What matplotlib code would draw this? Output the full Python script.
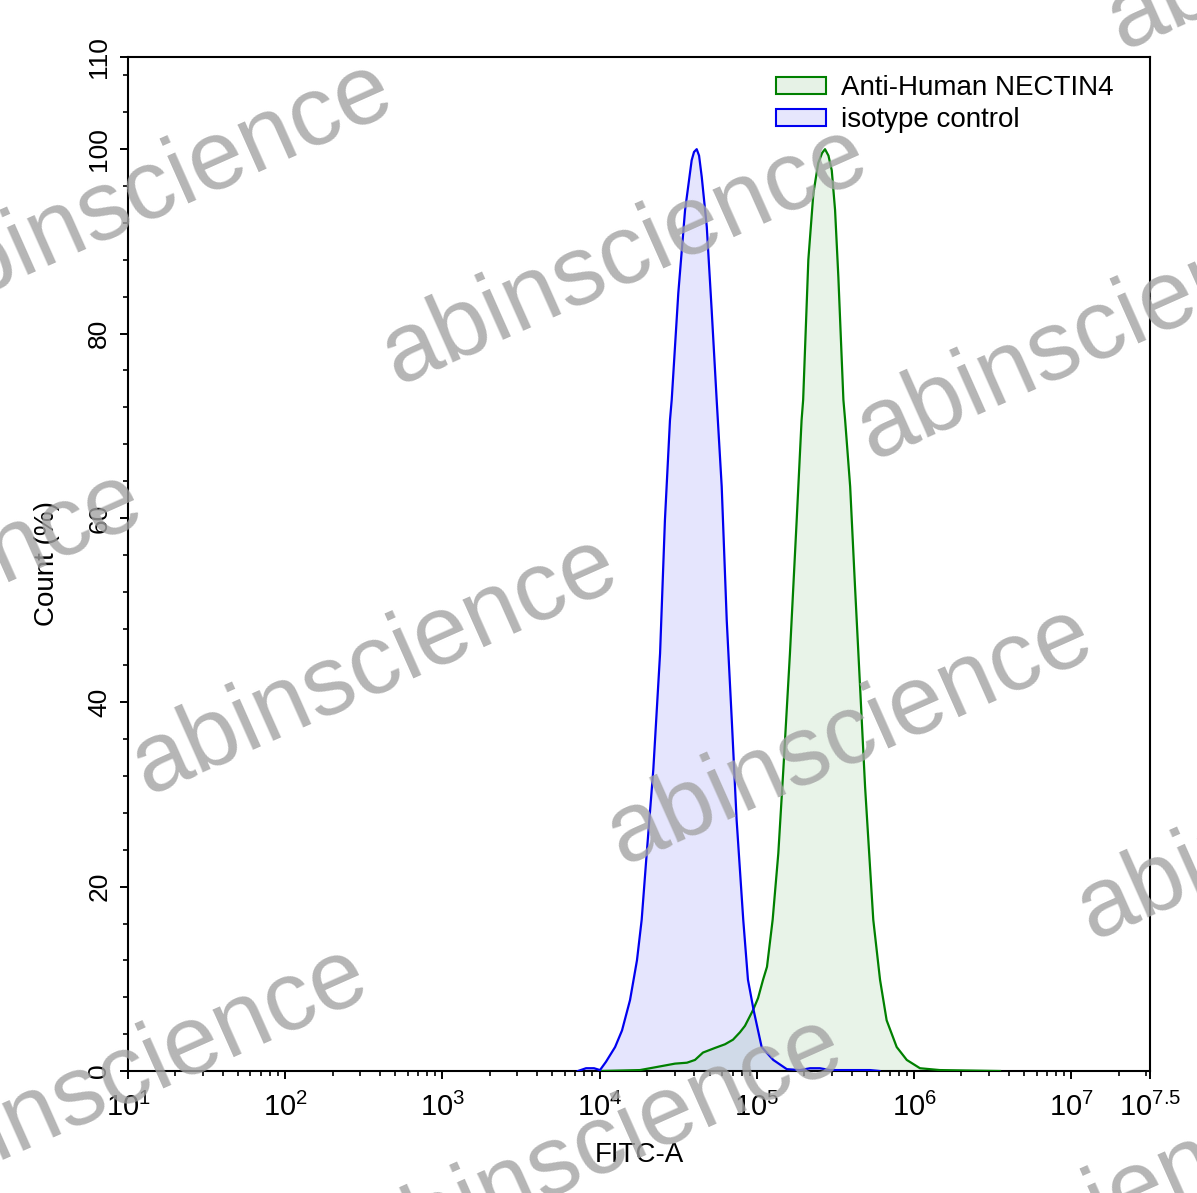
import numpy as np
import matplotlib
matplotlib.use("Agg")
import matplotlib.pyplot as plt
from matplotlib.patches import Patch
from matplotlib.ticker import FixedLocator, NullFormatter, LogLocator

plt.rcParams['font.family'] = ['Liberation Sans', 'DejaVu Sans']
plt.rcParams['mathtext.fontset'] = 'custom'
plt.rcParams['mathtext.rm'] = 'Liberation Sans'
plt.rcParams['mathtext.it'] = 'Liberation Sans:italic'
plt.rcParams['mathtext.bf'] = 'Liberation Sans:bold'

# ---------------- data ----------------
series_names = ["Anti-Human NECTIN4", "isotype control"]

# isotype control (blue): log10(FITC-A) and Count (%)
iso_log10 = [3.862, 3.913, 3.964, 4.002, 4.040, 4.098, 4.142, 4.193, 4.237, 4.267,
             4.299, 4.341, 4.384, 4.415, 4.447, 4.458, 4.500, 4.543, 4.585, 4.600,
             4.617, 4.632, 4.649, 4.681, 4.712, 4.744, 4.776, 4.808, 4.840, 4.871,
             4.913, 4.943, 4.979, 5.030, 5.104, 5.190, 5.274, 5.338, 5.400, 5.465,
             5.720, 5.780]
iso_count = [0.0, 0.3, 0.3, 0.1, 1.0, 2.6, 4.4, 7.7, 12.0, 16.4,
             23.6, 32.7, 45.3, 59.8, 70.6, 72.8, 84.4, 93.4, 98.8, 99.7,
             100.0, 99.3, 97.0, 91.6, 82.6, 72.8, 63.4, 48.9, 38.1, 27.2,
             16.4, 9.9, 6.6, 2.6, 1.2, 0.2, 0.1, 0.3, 0.3, 0.1,
             0.1, 0.0]

# Anti-Human NECTIN4 (green)
nec_log10 = [4.002, 4.256, 4.384, 4.479, 4.555, 4.606, 4.657, 4.733, 4.797, 4.848,
             4.892, 4.924, 4.975, 5.007, 5.039, 5.064, 5.100, 5.136, 5.168, 5.210,
             5.253, 5.284, 5.294, 5.327, 5.359, 5.390, 5.415, 5.433, 5.455, 5.476,
             5.497, 5.518, 5.550, 5.561, 5.593, 5.624, 5.656, 5.688, 5.740, 5.783,
             5.825, 5.889, 5.953, 6.037, 6.164, 6.546]
nec_count = [0.0, 0.1, 0.5, 0.8, 0.9, 1.2, 2.0, 2.5, 2.9, 3.4,
             4.2, 4.9, 6.6, 7.9, 9.9, 11.3, 16.4, 23.6, 32.7, 45.3,
             59.8, 70.6, 72.8, 88.0, 95.2, 98.5, 99.6, 100.0, 99.3, 97.7,
             93.4, 86.1, 72.8, 70.6, 63.4, 52.5, 41.7, 30.8, 16.4, 9.9,
             5.5, 2.6, 1.2, 0.3, 0.1, 0.0]

x_tick_exponents = [1, 2, 3, 4, 5, 6, 7, 7.5]
x_tick_labels = ["1", "2", "3", "4", "5", "6", "7", "7.5"]
y_major_ticks = [0, 20, 40, 60, 80, 100, 110]
y_minor_step = 4

watermark = "abinscience"
watermark_centers_px = [(150, 190), (625, 255), (1350, -80), (1100, 330), (-100, 600),
                        (375, 665), (850, 735), (1320, 810), (125, 1075), (600, 1145),
                        (1070, 1220)]

# ---------------- figure ----------------
W, H = 1197, 1193
fig = plt.figure(figsize=(W / 100, H / 100), dpi=100)
ax = fig.add_axes([128 / W, 1 - 1071 / H, (1150 - 128) / W, (1071 - 57) / H])

green = "#008000"
blue = "#0000f0"

xn = 10 ** np.array(nec_log10)
xi = 10 ** np.array(iso_log10)
ax.fill_between(xn, nec_count, 0, color=green, alpha=0.09, lw=0, zorder=1)
ax.fill_between(xi, iso_count, 0, color=blue, alpha=0.10, lw=0, zorder=1)
ax.plot(xn, nec_count, color=green, lw=1.6, zorder=3, solid_joinstyle="round")
ax.plot(xi, iso_count, color=blue, lw=1.6, zorder=3, solid_joinstyle="round")

ax.set_xscale("log")
ax.set_xlim(10 ** 1, 10 ** 7.5)
ax.set_ylim(0, 110)

ax.xaxis.set_major_locator(FixedLocator([10 ** e for e in x_tick_exponents]))
ax.set_xticklabels([r"10$^{%s}$" % l for l in x_tick_labels])
ax.xaxis.set_minor_locator(LogLocator(base=10, subs=np.arange(2, 10)))
ax.xaxis.set_minor_formatter(NullFormatter())

ax.yaxis.set_major_locator(FixedLocator(y_major_ticks))
ax.yaxis.set_minor_locator(FixedLocator(list(range(0, 111, y_minor_step))))
ax.set_yticklabels([str(v) for v in y_major_ticks], rotation=90, va="center")

ax.tick_params(axis="both", which="major", direction="out", length=6, width=1.4,
               labelsize=19)
ax.tick_params(axis="both", which="minor", direction="out", length=3.5, width=1.2)
ax.tick_params(axis="x", which="major", pad=10, labelsize=21)
ax.tick_params(axis="y", which="major", pad=6)
for s in ax.spines.values():
    s.set_linewidth(1.5)

ax.set_xlabel("FITC-A", fontsize=20, labelpad=14)
ax.set_ylabel("Count (%)", fontsize=20, labelpad=20)

handles = [Patch(facecolor="#e6f2e6", edgecolor=green, lw=1.5),
           Patch(facecolor="#e6e6fd", edgecolor=blue, lw=1.5)]
ax.legend(handles, series_names, loc="upper left", bbox_to_anchor=(0.634, 0.982),
          frameon=False, fontsize=20, handlelength=1.8, handleheight=0.55,
          handletextpad=0.55, labelspacing=0.22, borderpad=0, borderaxespad=0)

for (cx, cy) in watermark_centers_px:
    fig.text(cx / W, 1 - cy / H, watermark, fontsize=71, color="#a3a3a3", alpha=0.8,
             rotation=24, rotation_mode="anchor", ha="center", va="center", zorder=10)

fig.savefig("out.png", dpi=100)
